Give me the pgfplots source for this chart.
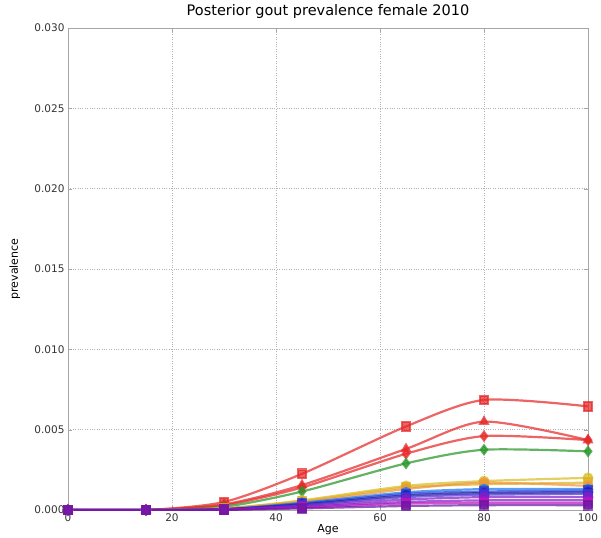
\documentclass[border=0pt]{standalone}
\usepackage{pgfplots}
\pgfplotsset{compat=1.18}
\usepackage{fontspec}
\setmainfont{DejaVu Sans}
\definecolor{mred}{RGB}{230,40,40}
\definecolor{mgreen}{RGB}{40,150,40}
\definecolor{myellow}{RGB}{215,190,40}
\definecolor{morange}{RGB}{240,150,60}
\definecolor{mblue}{RGB}{40,60,230}
\definecolor{mnavy}{RGB}{30,30,140}
\definecolor{mpurple}{RGB}{130,30,200}
\definecolor{mmagenta}{RGB}{190,20,190}
\begin{document}
\begin{tikzpicture}
\useasboundingbox (-68pt,-27pt) rectangle (533pt,510pt);
\begin{axis}[
  width=520pt, height=482pt, scale only axis,
  xmin=0, xmax=100, ymin=0, ymax=0.030,
  xtick={0,20,...,100},
  ytick={0,0.005,...,0.030},
  scaled y ticks=false,
  yticklabel style={/pgf/number format/.cd,fixed,fixed zerofill,precision=3},
  /pgf/number format/assume math mode=true,
  tick label style={font=\fontsize{10.5}{12}\selectfont, text=black!80},
  label style={font=\fontsize{11}{13}\selectfont},
  title style={font=\fontsize{14.5}{16}\selectfont, at={(axis description cs:0.5,1)}, anchor=center, yshift=10pt},
  title={Posterior gout prevalence female 2010},
  xlabel={Age}, ylabel={prevalence},
  xlabel style={at={(axis description cs:0.5,-0.0415)}, anchor=center},
  ylabel style={at={(axis description cs:-0.102,0.5)}, anchor=center},
  grid=major, grid style={gray!60, dotted},
  axis line style={gray!70},
  tick align=inside, tick style={gray!70},
  every axis plot/.append style={smooth, tension=0.45, line width=2.2pt, opacity=0.72, mark size=4.3pt},
]
\addplot[mred, mark=square*] coordinates {(0,0) (15,0) (30,0.00050) (45,0.00225) (65,0.00520) (80,0.00685) (100,0.00645)};
\addplot[mred, mark=triangle*] coordinates {(0,0) (15,0) (30,0.00035) (45,0.00155) (65,0.00380) (80,0.00550) (100,0.00435)};
\addplot[mred, mark=diamond*] coordinates {(0,0) (15,0) (30,0.00030) (45,0.00140) (65,0.00350) (80,0.00460) (100,0.00435)};
\addplot[mgreen, mark=diamond*] coordinates {(0,0) (15,0) (30,0.00020) (45,0.00115) (65,0.00290) (80,0.00375) (100,0.00365)};
\addplot[myellow, mark=*] coordinates {(0,0) (15,0) (30,0.00010) (45,0.00060) (65,0.00150) (80,0.00180) (100,0.00200)};
\addplot[myellow!80!orange, mark=square*] coordinates {(0,0) (15,0) (30,0.00010) (45,0.00055) (65,0.00140) (80,0.00160) (100,0.00170)};
\addplot[morange, mark=*] coordinates {(0,0) (15,0) (30,0.00010) (45,0.00050) (65,0.00130) (80,0.00170) (100,0.00150)};
\addplot[mblue!70!cyan, mark=*] coordinates {(0,0) (15,0) (30,0.00005) (45,0.00045) (65,0.00110) (80,0.00130) (100,0.00130)};
\addplot[mblue, mark=square*] coordinates {(0,0) (15,0) (30,0.00005) (45,0.00040) (65,0.00100) (80,0.00115) (100,0.00120)};
\addplot[mnavy, mark=*] coordinates {(0,0) (15,0) (30,0.00005) (45,0.00035) (65,0.00090) (80,0.00105) (100,0.00110)};
\addplot[mblue!60!mpurple, mark=square*] coordinates {(0,0) (15,0) (30,0.00003) (45,0.00030) (65,0.00080) (80,0.00095) (100,0.00100)};
\addplot[mpurple, mark=*] coordinates {(0,0) (15,0) (30,0.00003) (45,0.00025) (65,0.00065) (80,0.00080) (100,0.00080)};
\addplot[mpurple, mark=square*] coordinates {(0,0) (15,0) (30,0.00002) (45,0.00020) (65,0.00050) (80,0.00060) (100,0.00060)};
\addplot[mmagenta, mark=square*] coordinates {(0,0) (15,0) (30,0.00002) (45,0.00015) (65,0.00040) (80,0.00045) (100,0.00045)};
\addplot[mpurple!80!black, mark=square*] coordinates {(0,0) (15,0) (30,0.00001) (45,0.00010) (65,0.00025) (80,0.00030) (100,0.00030)};
\end{axis}
\end{tikzpicture}
\end{document}
